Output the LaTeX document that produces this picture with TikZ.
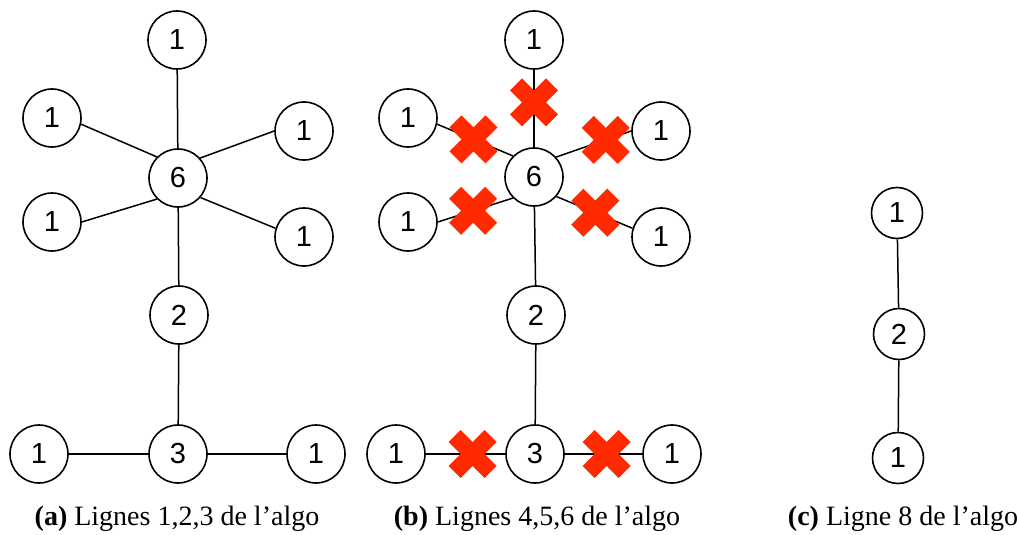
\documentclass[tikz,border=0pt]{standalone}
\usepackage{fontspec}
\setmainfont{Liberation Serif}
\newfontfamily\numfont{Liberation Sans}
\usepackage{tikz}
\usetikzlibrary{shapes.misc}
\usepackage{xcolor}
\definecolor{ink}{RGB}{0,0,0}
\definecolor{xred}{RGB}{255,42,0}
\tikzset{
  vtx/.style={circle,draw=ink,line width=0.8pt,minimum size=29pt,inner sep=0pt,
    font=\numfont\fontsize{14.5}{16}\selectfont},
  vtxs/.style={vtx,minimum size=25.5pt},
  lnk/.style={draw=ink,line width=0.75pt},
  cut/.style={cross out,draw=xred,line width=8.5pt,minimum size=18pt,
    inner sep=0pt,outer sep=0pt},
  legend/.style={anchor=base,inner sep=0pt,font=\fontsize{14}{16}\selectfont},
}

\begin{document}
\begin{tikzpicture}[x=0.5pt,y=-0.5pt]
  \useasboundingbox (0,0) rectangle (1017,535);
  % (a)
  \node[vtx] (aT) at (177,40) {1};
  \node[vtx] (aUL) at (52,118) {1};
  \node[vtx] (aUR) at (304,131) {1};
  \node[vtx] (a6) at (178,178) {6};
  \node[vtx] (aLL) at (52,222) {1};
  \node[vtx] (aLR) at (304,237) {1};
  \node[vtx] (a2) at (179,315) {2};
  \node[vtx] (a3) at (178,454) {3};
  \node[vtx] (aBL) at (39,454) {1};
  \node[vtx] (aBR) at (316,454) {1};
  \draw[lnk] (a6) -- (aT);
  \draw[lnk] (a6.135) -- (aUL.-12);
  \draw[lnk] (a6.42) -- (aUR.west);
  \draw[lnk] (a6.225) -- (aLL.east);
  \draw[lnk] (a6.-41) -- (aLR.163);
  \draw[lnk] (a6) -- (a2);
  \draw[lnk] (a2) -- (a3);
  \draw[lnk] (a3) -- (aBL);
  \draw[lnk] (a3) -- (aBR);
  % (b)
  \node[vtx] (bT) at (534,40) {1};
  \node[vtx] (bUL) at (408,118) {1};
  \node[vtx] (bUR) at (661,131) {1};
  \node[vtx] (b6) at (534,177) {6};
  \node[vtx] (bLL) at (408,222) {1};
  \node[vtx] (bLR) at (661,237) {1};
  \node[vtx] (b2) at (536,315) {2};
  \node[vtx] (b3) at (535,454) {3};
  \node[vtx] (bBL) at (396,454) {1};
  \node[vtx] (bBR) at (672,454) {1};
  \draw[lnk] (b6) -- node[cut,pos=.58] (xT) {} (bT);
  \draw[lnk] (b6.135) -- node[cut,pos=.52] (xUL) {} (bUL.-12);
  \draw[lnk] (b6.42) -- node[cut,pos=.66] (xUR) {} (bUR.west);
  \draw[lnk] (b6.225) -- node[cut,pos=.53] (xLL) {} (bLL.east);
  \draw[lnk] (b6.-41) -- node[cut,pos=.51] (xLR) {} (bLR.163);
  \draw[lnk] (b6) -- (b2);
  \draw[lnk] (b2) -- (b3);
  \draw[lnk] (b3) -- node[cut,pos=.41] (xBL) {} (bBL);
  \draw[lnk] (b3) -- node[cut,pos=.54] (xBR) {} (bBR);
  % (c)
  \node[vtxs] (cT) at (897,213) {1};
  \node[vtxs] (c2) at (899,334) {2};
  \node[vtxs] (cB) at (898,458) {1};
  \draw[lnk] (cT) -- (c2);
  \draw[lnk] (c2) -- (cB);
  % captions
  \node[legend] (capa) at (177,525) {\textbf{(a)} Lignes 1,2,3 de l’algo};
  \node[legend] (capb) at (537,525) {\textbf{(b)} Lignes 4,5,6 de l’algo};
  \node[legend] (capc) at (903,525) {\textbf{(c)} Ligne 8 de l’algo};
\end{tikzpicture}
\end{document}
